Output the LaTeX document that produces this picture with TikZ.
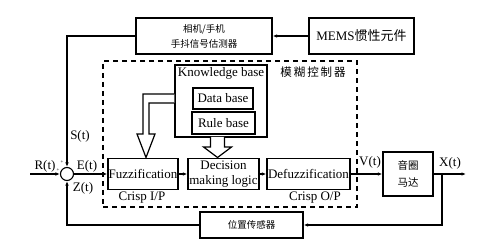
\documentclass[tikz,border=0pt]{standalone}
\usepackage{fontspec}
\setmainfont{Liberation Serif}
\newfontfamily\cjk{Noto Sans CJK SC}
\usetikzlibrary{arrows.meta}
\begin{document}
\begin{tikzpicture}[x=1pt,y=-1pt,
  box/.style={draw, line width=1.25pt, inner sep=0pt, align=center, font=\fontsize{13}{15}\selectfont},
  cbox/.style={draw, line width=1.25pt, inner sep=0pt, align=center, font=\cjk\fontsize{9.5}{15}\selectfont},
  lbl/.style={inner sep=0pt, font=\fontsize{13}{15}\selectfont},
  arr/.style={line width=1.1pt, -{Latex[length=4.5pt,width=3.5pt]}},
  hollow/.style={draw, line width=1.2pt, fill=white, line join=miter}]
\useasboundingbox (0,0) rectangle (500,248);
\fill[white] (0,0) rectangle (500,248);

% blocks
\node[cbox, minimum width=136pt, minimum height=36pt] (est) at (204,36) {相机/手机\\手抖信号估测器};
\node[box, minimum width=105pt, minimum height=36pt] (mems) at (361.5,36) {MEMS{\cjk 惯性元件}};
\node[draw, dash pattern=on 5pt off 4pt, line width=1.3pt, minimum width=254pt, minimum height=146pt, inner sep=0pt] (fc) at (230,134) {};
\node[lbl, font=\cjk\fontsize{11.5}{15}\selectfont] (fct) at (313,72) {模\,糊\,控\,制\,器};
\node[box, minimum width=92pt, minimum height=72pt] (kb) at (221,101) {};
\node[lbl] (kbt) at (221,73) {Knowledge base};
\node[box, minimum width=60pt, minimum height=21pt] (db) at (223,98.5) {Data base};
\node[box, minimum width=63pt, minimum height=22pt] (rb) at (223.5,123) {Rule base};
\node[box, minimum width=70pt, minimum height=31pt] (fuzz) at (143,174) {Fuzzification};
\node[box, minimum width=71pt, minimum height=31pt] (dec) at (223.5,174) {Decision\\making logic};
\node[box, minimum width=83pt, minimum height=31pt] (defuzz) at (308.5,174) {Defuzzification};
\node[cbox, font=\cjk\fontsize{10.5}{17}\selectfont, minimum width=50pt, minimum height=44pt] (motor) at (408,174) {音圈\\马达};
\node[cbox, minimum width=103pt, minimum height=26pt] (sensor) at (251.5,225) {位置传感器};
\node[draw, circle, line width=1.1pt, minimum size=13pt, inner sep=0pt] (sum) at (67,174) {};

% hollow arrows from knowledge base
\draw[hollow] (kb.west |- 0,94) -- (143,94) -- (143,134) -- (137,134) -- (146,157.5)
  -- (155,134) -- (149,134) -- (149,103) -- (kb.west |- 0,103);
\draw[hollow] (210.5,137) -- (210.5,147) -- (203.5,147) -- (217.5,157.5) -- (231.5,147)
  -- (224.5,147) -- (224.5,137);

% labels
\node[lbl] (rl) at (45,166) {R(t)};
\node[inner sep=0pt, font=\fontsize{5}{5}\selectfont] (p1) at (58,170) {+};
\node[inner sep=0pt, font=\fontsize{5}{5}\selectfont] (p2) at (62,162) {+};
\node[lbl] (sl) at (80,136) {S(t)};
\node[lbl] (el) at (87,166) {E(t)};
\node[lbl] (zl) at (83,188) {Z(t)};
\node[lbl] (vl) at (370,162) {V(t)};
\node[lbl] (xl) at (450,163) {X(t)};
\node[lbl] (cip) at (142,198) {Crisp I/P};
\node[lbl] (cop) at (315,198) {Crisp O/P};

% connectors
\coordinate (rin) at (30,174);
\coordinate (xout) at (466,174);
\coordinate (br) at (442,174);
\draw[arr] (mems.west) -- (est.east);
\draw[arr] (est.west) -| (sum.north);
\draw[arr] (rin) -- (sum.west);
\draw[arr] (sum.east) -- (fuzz.west);
\draw[arr] (fuzz.east) -- (dec.west);
\draw[arr] (dec.east) -- (defuzz.west);
\draw[arr] (defuzz.east) -- (motor.west);
\draw[arr] (motor.east) -- (xout);
\draw[arr] (br) |- (sensor.east);
\draw[arr] (sensor.west) -| (sum.south);
\end{tikzpicture}
\end{document}
